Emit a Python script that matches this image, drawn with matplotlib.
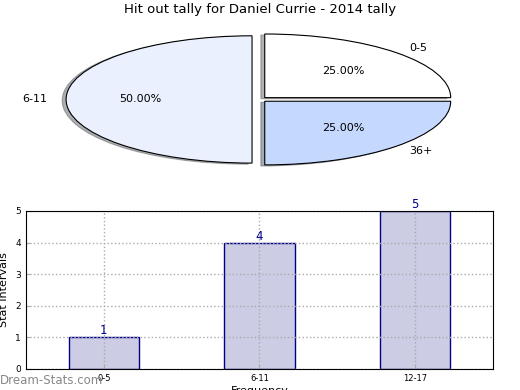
import matplotlib
matplotlib.use("Agg")
import matplotlib.pyplot as plt

title = "Hit out tally for Daniel Currie - 2014 tally"
pie_labels = ["0-5", "6-11", "36+"]
pie_values = [25, 50, 25]
pie_colors = ["#ffffff", "#eaf0fd", "#c5d8fd"]

bar_cats = ["0-5", "6-11", "12-17"]
bar_vals = [1, 4, 5]

fig = plt.figure(figsize=(5.2, 3.9), dpi=100)

# Pie
axp = fig.add_axes([0.052, 0.541, 0.894, 0.408])
wedges, texts, autotexts = axp.pie(
    pie_values, labels=pie_labels, colors=pie_colors, autopct="%1.2f%%",
    startangle=0, explode=[0.04] * 3,
    shadow=dict(ox=-0.015, oy=-0.012, shade=0.6),
    wedgeprops=dict(edgecolor="black", linewidth=0.8),
    textprops=dict(fontsize=8))
axp.set_aspect("auto")
axp.set_xlim(-1.25, 1.25)
axp.set_ylim(-1.25, 1.25)
fig.text(0.5, 0.975, title, ha="center", va="center", fontsize=9.5)

# Bars
axb = fig.add_axes([0.05, 0.054, 0.898, 0.405])
x = list(range(len(bar_cats)))
bars = axb.bar(x, bar_vals, width=0.45, color="#ccccE5", edgecolor="#00008b", linewidth=1, zorder=1)
for xi, v in zip(x, bar_vals):
    axb.text(xi, v, str(v), ha="center", va="bottom", color="#00008b", fontsize=8.5)
axb.set_xlim(-0.5, 2.5)
axb.set_ylim(0, 5)
axb.set_xticks(x)
axb.set_xticklabels(bar_cats, fontsize=6)
axb.set_yticks(range(0, 6))
axb.tick_params(axis="y", labelsize=6.5, direction="in", length=3, color="#aaaaaa")
axb.tick_params(axis="x", direction="in", length=3, color="#aaaaaa")
axb.set_axisbelow("line")
axb.grid(True, linestyle=":", color="#aaaaaa", linewidth=1)
axb.set_ylabel("Stat Intervals", fontsize=8)
axb.yaxis.set_label_coords(-0.036, 0.5)
axb.set_xlabel("Frequency", fontsize=8, labelpad=2)
fig.text(0.0, 0.025, "Dream-Stats.com", ha="left", va="center", fontsize=8.5, color="#888888")

fig.savefig("out.png", dpi=100)
